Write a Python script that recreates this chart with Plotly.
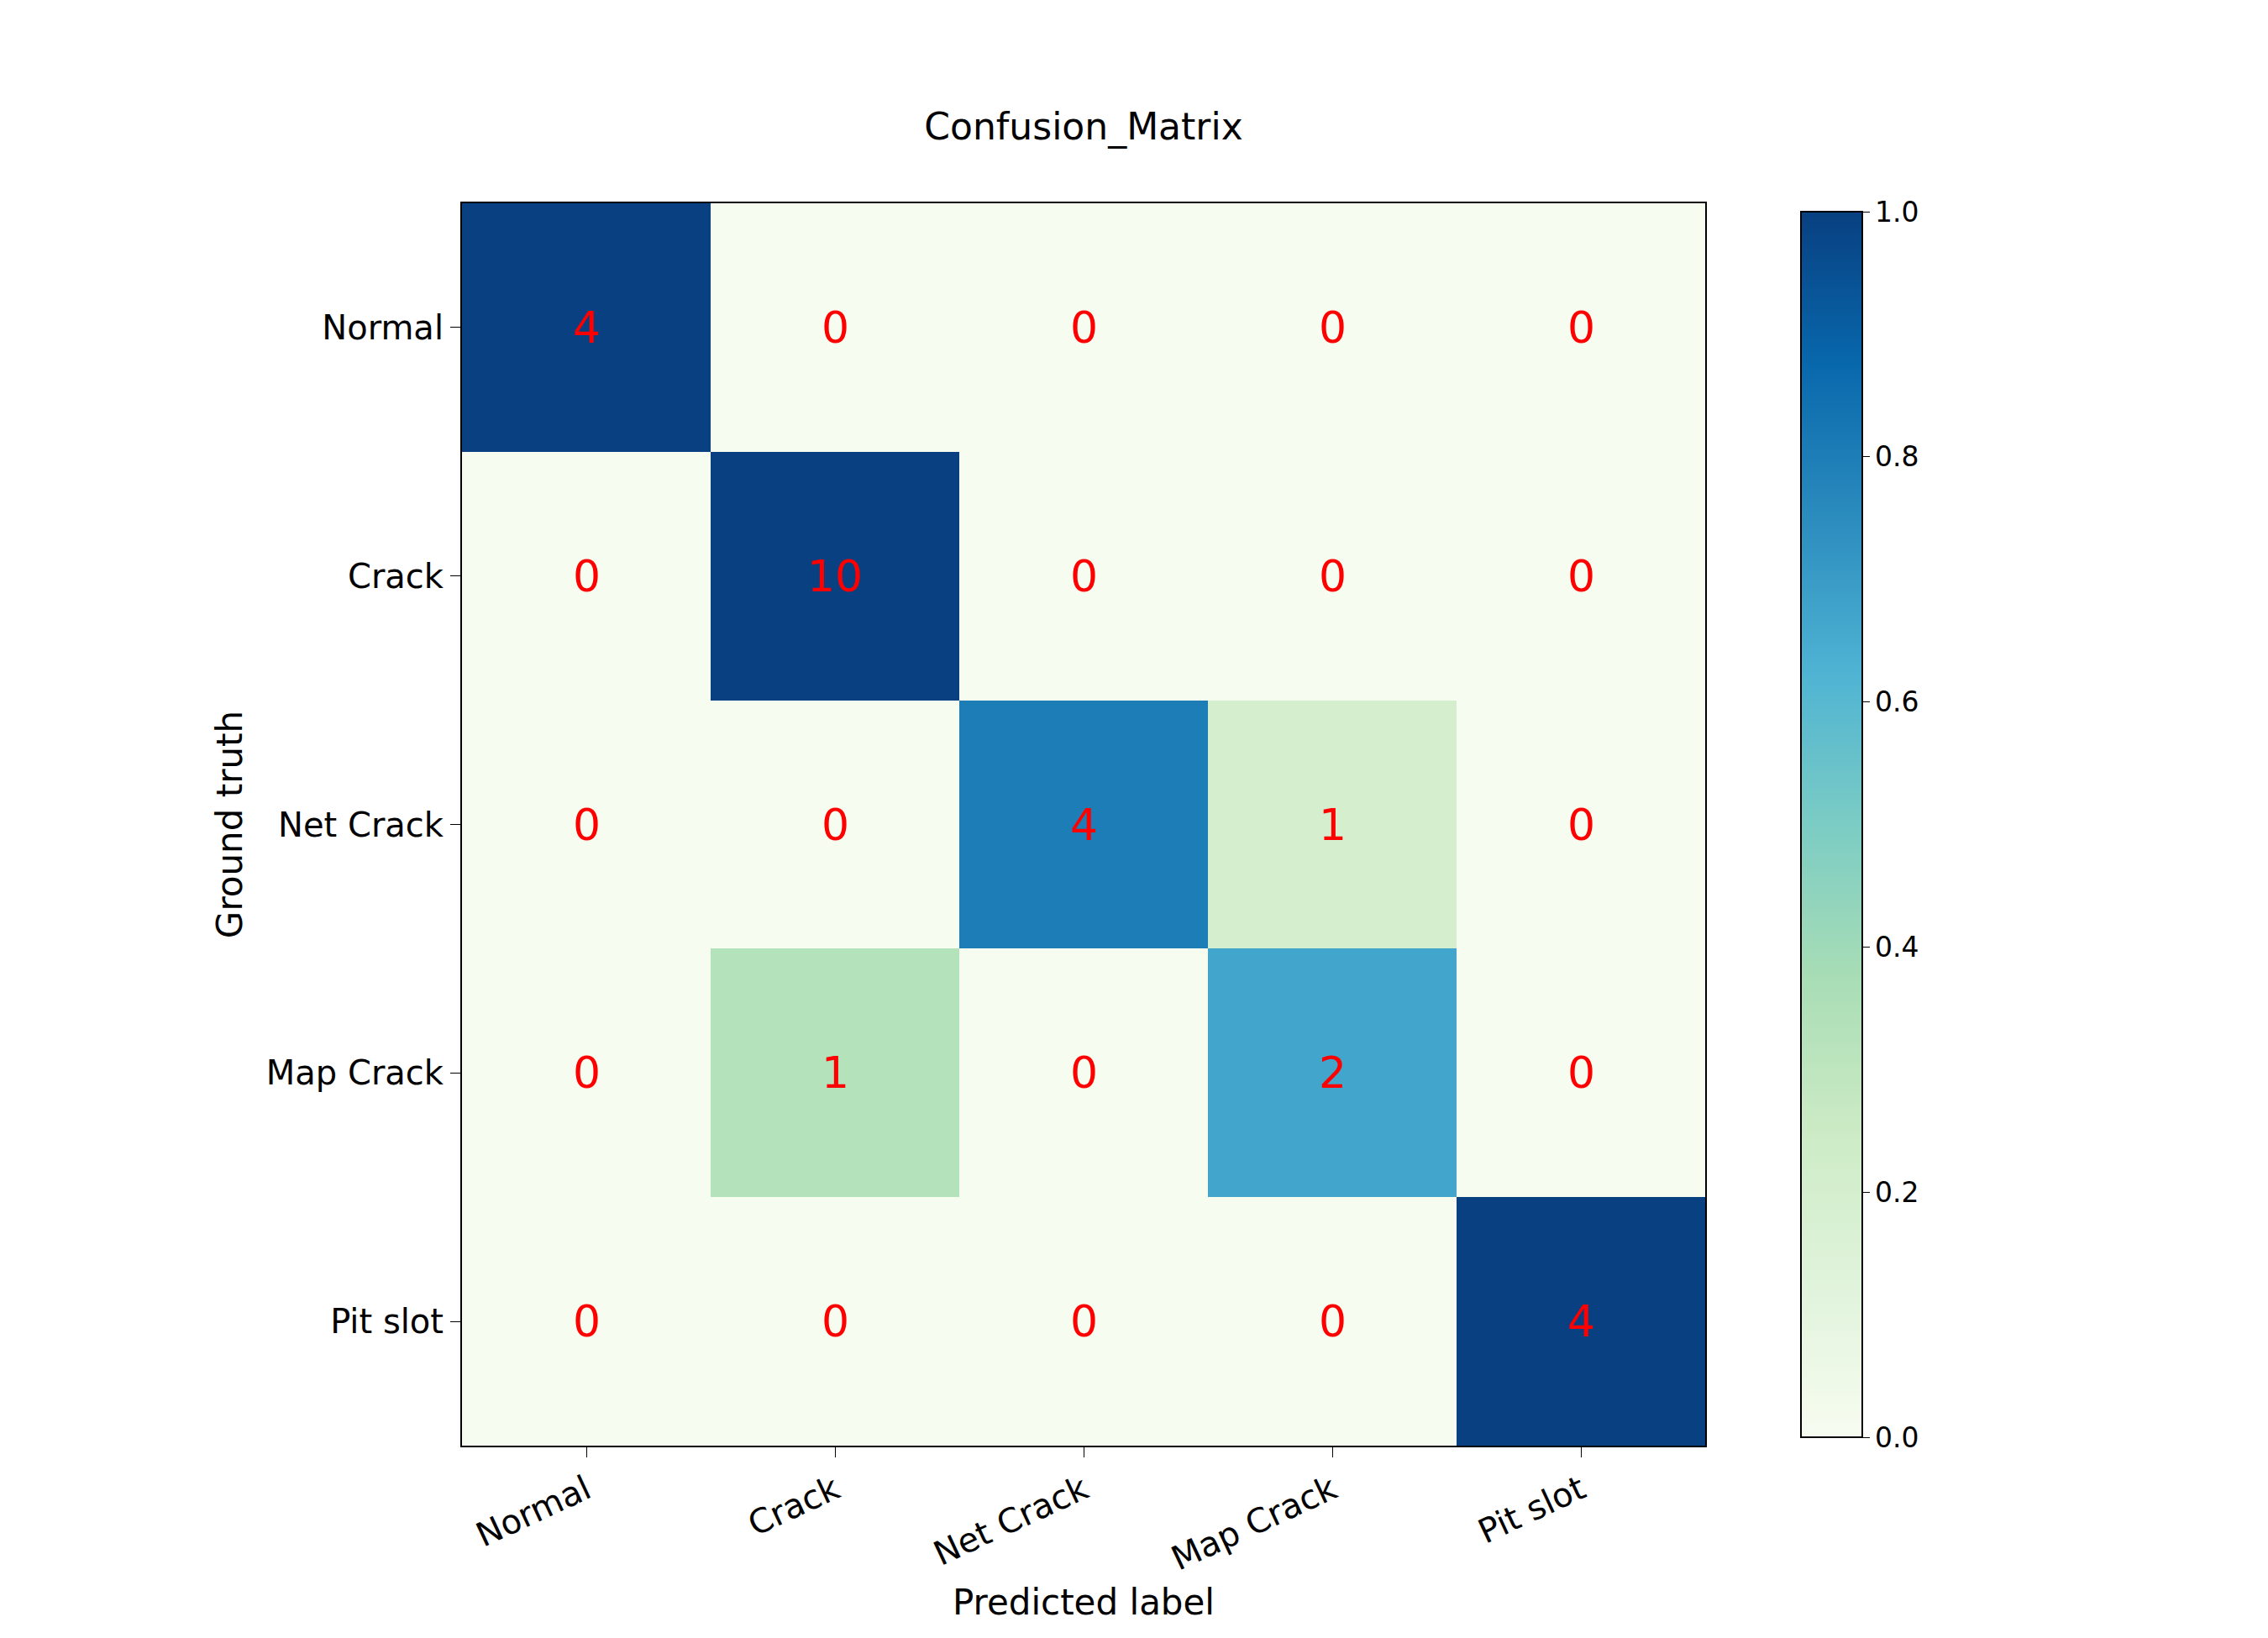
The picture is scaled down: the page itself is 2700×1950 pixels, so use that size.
import numpy as np
import plotly.graph_objects as go

labels = ["Normal", "Crack", "Net Crack", "Map Crack", "Pit slot"]
counts = [
    [4, 0, 0, 0, 0],
    [0, 10, 0, 0, 0],
    [0, 0, 4, 1, 0],
    [0, 1, 0, 2, 0],
    [0, 0, 0, 0, 4],
]

cm = np.array(counts, dtype=float)
norm = cm / cm.sum(axis=1, keepdims=True)

fig = go.Figure(go.Heatmap(
    z=norm, x=labels, y=labels, colorscale="GnBu", zmin=0, zmax=1,
    xgap=0, ygap=0,
    colorbar=dict(thickness=73, len=1, lenmode="fraction", x=1.07, xanchor="left",
                  y=0.5, yanchor="middle", outlinecolor="black", outlinewidth=2,
                  tickvals=[0, 0.2, 0.4, 0.6, 0.8, 1.0],
                  ticktext=["0.0", "0.2", "0.4", "0.6", "0.8", "1.0"],
                  ticks="outside", ticklen=8, tickcolor="black",
                  tickfont=dict(size=33, color="black")),
))

for i in range(len(labels)):
    for j in range(len(labels)):
        fig.add_annotation(x=labels[j], y=labels[i], text=str(counts[i][j]),
                           showarrow=False, font=dict(size=52, color="red"))

axis_common = dict(showline=True, mirror=True, linecolor="black", linewidth=2,
                   ticks="outside", ticklen=12, tickcolor="black",
                   tickfont=dict(size=40, color="black"), showgrid=False, zeroline=False)

fig.update_xaxes(title=dict(text="Predicted label", font=dict(size=42, color="black")),
                 tickangle=-25, constrain="domain", **axis_common)
fig.update_yaxes(title=dict(text="Ground truth", font=dict(size=42, color="black")),
                 autorange="reversed", **axis_common)

fig.update_layout(
    width=2700, height=1950,
    font=dict(family="DejaVu Sans", color="black"),
    title=dict(text="Confusion_Matrix", x=0.5, xref="paper", y=0.935,
               font=dict(size=44, color="black")),
    plot_bgcolor="white", paper_bgcolor="white",
    margin=dict(l=542, r=678, t=234, b=237),
)

fig.write_html("out.html")
